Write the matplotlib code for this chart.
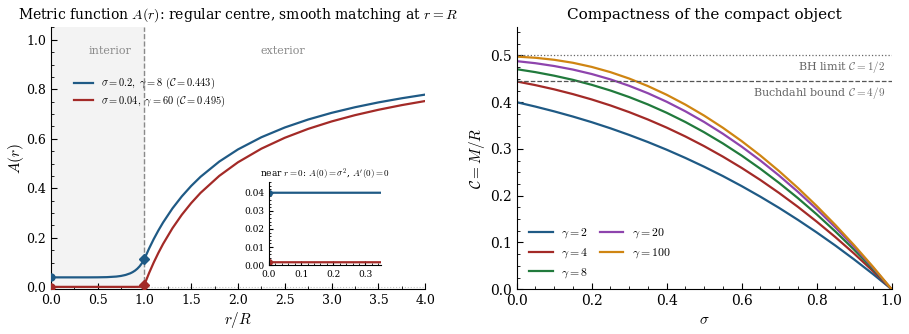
import numpy as np
import matplotlib
matplotlib.use("Agg")
import matplotlib.pyplot as plt
from matplotlib.ticker import MultipleLocator, AutoMinorLocator

plt.rcParams["font.family"] = "DejaVu Serif"
plt.rcParams["mathtext.fontset"] = "cm"

# ── data: left panel, metric function A(r) ─────────────────────────────
r_in_blue = [0.0, 0.2, 0.4, 0.5, 0.6, 0.7, 0.75, 0.8, 0.85, 0.875, 0.9, 0.925, 0.95, 0.975, 1.0]
A_in_blue = [0.040, 0.040, 0.0400, 0.0402, 0.0409, 0.0432, 0.0457, 0.0498, 0.0564, 0.0612,
             0.0672, 0.0750, 0.0849, 0.0976, 0.114]
r_in_red = [0.0, 0.5, 0.9, 0.95, 0.97, 0.98, 0.99, 1.0]
A_in_red = [0.0016, 0.0016, 0.0016, 0.0018, 0.0025, 0.0034, 0.0053, 0.010]

r_out = [1.0, 1.05, 1.1, 1.15, 1.2, 1.3, 1.4, 1.5, 1.6, 1.8, 2.0, 2.25, 2.5, 2.75, 3.0,
         3.25, 3.5, 3.75, 4.0]
A_out_blue = [0.114, 0.1562, 0.1946, 0.2296, 0.2617, 0.3185, 0.3671, 0.4093, 0.4463, 0.5078,
              0.557, 0.6062, 0.6456, 0.6778, 0.7047, 0.7274, 0.7469, 0.7637, 0.7785]
A_out_red = [0.010, 0.0571, 0.100, 0.1391, 0.175, 0.2385, 0.2929, 0.340, 0.3813, 0.450,
             0.505, 0.560, 0.604, 0.640, 0.670, 0.6954, 0.7171, 0.736, 0.7525]

A0 = [0.04, 0.0016]         # A(0) = sigma^2
AR = [0.114, 0.010]         # A(R)
labels_A = [r"$\sigma=0.2,\ \gamma=8\ (\mathcal{C}=0.443)$",
            r"$\sigma=0.04,\ \gamma=60\ (\mathcal{C}=0.495)$"]

# ── data: right panel, compactness C(sigma) ────────────────────────────
sigma = [0.0, 0.05, 0.1, 0.15, 0.2, 0.25, 0.3, 0.35, 0.4, 0.45, 0.5,
         0.55, 0.6, 0.65, 0.7, 0.75, 0.8, 0.85, 0.9, 0.95, 1.0]
C_g2 = [0.4000, 0.3906, 0.3804, 0.3693, 0.3573, 0.3442, 0.3300, 0.3148, 0.2984, 0.2808, 0.2620,
        0.2420, 0.2206, 0.1979, 0.1739, 0.1484, 0.1216, 0.0934, 0.0637, 0.0326, 0.0]
C_g4 = [0.4444, 0.4365, 0.4275, 0.4173, 0.4059, 0.3931, 0.3788, 0.3630, 0.3457, 0.3267, 0.3060,
        0.2836, 0.2595, 0.2336, 0.2058, 0.1762, 0.1447, 0.1114, 0.0762, 0.0390, 0.0]
C_g8 = [0.4706, 0.4643, 0.4567, 0.4478, 0.4372, 0.4250, 0.4110, 0.3952, 0.3774, 0.3576, 0.3357,
        0.3118, 0.2858, 0.2576, 0.2273, 0.1949, 0.1603, 0.1235, 0.0845, 0.0433, 0.0]
C_g20 = [0.4878, 0.4834, 0.4774, 0.4698, 0.4603, 0.4488, 0.4351, 0.4192, 0.4010, 0.3805, 0.3577,
         0.3325, 0.3050, 0.2752, 0.2430, 0.2084, 0.1715, 0.1322, 0.0905, 0.0464, 0.0]
C_g100 = [0.4975, 0.4950, 0.4907, 0.4843, 0.4755, 0.4643, 0.4506, 0.4345, 0.4159, 0.3948, 0.3713,
          0.3453, 0.3168, 0.2859, 0.2525, 0.2166, 0.1782, 0.1374, 0.0941, 0.0483, 0.0]
gammas = [2, 4, 8, 20, 100]

BLUE, RED, GREEN, PURPLE, ORANGE = "#1f5a85", "#a32a27", "#217a3c", "#8e44ad", "#cf8512"


def style_axes(ax, size=9, major=4, minor=2):
    ax.spines["top"].set_visible(False)
    ax.spines["right"].set_visible(False)
    ax.tick_params(which="both", direction="in", labelsize=size)
    ax.tick_params(which="major", length=major)
    ax.tick_params(which="minor", length=minor)


fig = plt.figure(figsize=(9.09, 3.34), dpi=100)
ax1 = fig.add_axes([0.0558, 0.134, 0.412, 0.784])
ax2 = fig.add_axes([0.5684, 0.134, 0.4125, 0.784])

# ── left panel ─────────────────────────────────────────────────────────
ax1.axvspan(0, 1, color="#f3f3f3", zorder=0)
ax1.axvline(1.0, color="#8a8a8a", ls="--", lw=1.0, zorder=1)
ax1.axhline(0.0, color="#c8c8c8", ls=":", lw=0.8, zorder=1)

cols = [BLUE, RED]
ax1.plot(r_in_blue + r_out[1:], A_in_blue + A_out_blue[1:], color=BLUE, lw=1.6, label=labels_A[0], zorder=3)
ax1.plot(r_in_red + r_out[1:], A_in_red + A_out_red[1:], color=RED, lw=1.6, label=labels_A[1], zorder=3)
for c, a0, ar in zip(cols, A0, AR):
    ax1.plot([0], [a0], "o", color=c, ms=5, zorder=4)
    ax1.plot([1], [ar], "D", color=c, ms=5, zorder=4)

ax1.text(0.63, 0.955, "interior", color="#8c8c8c", fontsize=8, ha="center", va="center")
ax1.text(2.48, 0.955, "exterior", color="#8c8c8c", fontsize=8, ha="center", va="center")

ax1.set_xlim(0, 4)
ax1.set_ylim(-0.008, 1.05)
ax1.xaxis.set_major_locator(MultipleLocator(0.5))
ax1.xaxis.set_minor_locator(MultipleLocator(0.25))
ax1.yaxis.set_major_locator(MultipleLocator(0.2))
ax1.yaxis.set_minor_locator(MultipleLocator(0.05))
style_axes(ax1)
ax1.set_xlabel(r"$r/R$", fontsize=11, labelpad=2)
ax1.set_ylabel(r"$A(r)$", fontsize=11, labelpad=0)
ax1.set_title(r"Metric function $A(r)$: regular centre, smooth matching at $r=R$", fontsize=10, pad=6)
ax1.legend(loc="upper left", bbox_to_anchor=(0.051, 0.83), borderaxespad=0, frameon=False,
           fontsize=7.5, handlelength=1.8, handletextpad=0.8, labelspacing=0.25)

# inset near r = 0
axin = ax1.inset_axes([0.583, 0.092, 0.3, 0.318])
axin.plot(r_in_blue, A_in_blue, color=BLUE, lw=1.6)
axin.plot(r_in_red, A_in_red, color=RED, lw=1.6)
for c, a0 in zip(cols, A0):
    axin.plot([0], [a0], "o", color=c, ms=4)
axin.set_xlim(0, 0.35)
axin.set_ylim(0, 0.046)
axin.xaxis.set_major_locator(MultipleLocator(0.1))
axin.yaxis.set_major_locator(MultipleLocator(0.01))
axin.xaxis.set_minor_locator(AutoMinorLocator(5))
axin.yaxis.set_minor_locator(AutoMinorLocator(5))
style_axes(axin, size=6.5, major=3, minor=1.5)
axin.set_title(r"near $r=0$: $A(0)=\sigma^2$, $A^{\prime}(0)=0$", fontsize=6.5, pad=2)

# ── right panel ────────────────────────────────────────────────────────
series = [C_g2, C_g4, C_g8, C_g20, C_g100]
for g, vals, c in zip(gammas, series, [BLUE, RED, GREEN, PURPLE, ORANGE]):
    ax2.plot(sigma, vals, color=c, lw=1.6, label=rf"$\gamma={g}$")

ax2.axhline(0.5, color="#666666", ls=":", lw=0.9)
ax2.axhline(4 / 9, color="#555555", ls="--", lw=0.9)
ax2.text(0.982, 0.492, r"BH limit $\mathcal{C}=1/2$", color="#666666", fontsize=8, ha="right", va="top")
ax2.text(0.982, 0.4364, r"Buchdahl bound $\mathcal{C}=4/9$", color="#666666", fontsize=8, ha="right", va="top")

ax2.set_xlim(0, 1)
ax2.set_ylim(0, 0.56)
ax2.xaxis.set_major_locator(MultipleLocator(0.2))
ax2.xaxis.set_minor_locator(MultipleLocator(0.05))
ax2.yaxis.set_major_locator(MultipleLocator(0.1))
ax2.yaxis.set_minor_locator(MultipleLocator(0.025))
style_axes(ax2, size=10)
ax2.set_xlabel(r"$\sigma$", fontsize=11)
ax2.set_ylabel(r"$\mathcal{C}=M/R$", fontsize=11, labelpad=2)
ax2.set_title("Compactness of the compact object", fontsize=11, pad=6)
ax2.legend(loc="lower left", bbox_to_anchor=(0.02, 0.018), borderaxespad=0, frameon=False,
           fontsize=8.5, ncol=2, handlelength=2.0, handletextpad=0.7, columnspacing=1.0,
           labelspacing=0.45)

fig.savefig("out.png", dpi=100)
